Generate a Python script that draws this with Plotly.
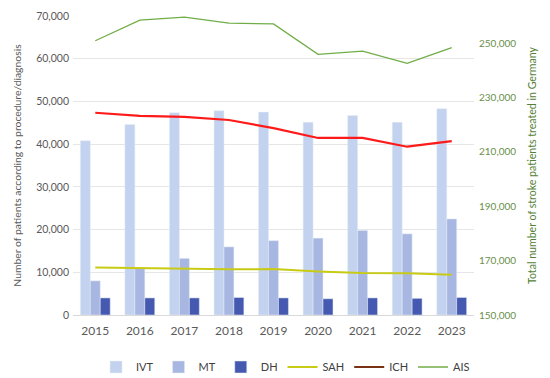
import plotly.graph_objects as go

years = ["2015", "2016", "2017", "2018", "2019", "2020", "2021", "2022", "2023"]
ivt = [40800, 44600, 47350, 47800, 47500, 45100, 46700, 45100, 48300]
mt = [8000, 10900, 13250, 15950, 17400, 18000, 19800, 19000, 22500]
dh = [4000, 4000, 4000, 4100, 4000, 3800, 4000, 3900, 4100]
sah = [11100, 10950, 10850, 10700, 10750, 10200, 9850, 9800, 9400]
ich = [47350, 46600, 46400, 45650, 43750, 41450, 41450, 39400, 40700]
ais = [250900, 258500, 259600, 257400, 257100, 245900, 247100, 242600, 248400]

font = "Lato"
fig = go.Figure()
fig.add_trace(go.Bar(x=years, y=ivt, name="IVT", marker_color="#C3D2EE"))
fig.add_trace(go.Bar(x=years, y=mt, name="MT", marker_color="#A8B7E2"))
fig.add_trace(go.Bar(x=years, y=dh, name="DH", marker_color="#4559B0"))
fig.add_trace(go.Scatter(x=years, y=sah, name="SAH", mode="lines",
                         line=dict(color="#C8CB14", width=2)))
fig.add_trace(go.Scatter(x=years, y=ich, name="ICH", mode="lines", showlegend=False,
                         line=dict(color="#FF1A1A", width=2.2)))
fig.add_trace(go.Scatter(x=[None], y=[None], name="ICH", mode="lines",
                         line=dict(color="#7A3214", width=2)))
fig.add_trace(go.Scatter(x=years, y=ais, name="AIS", mode="lines", yaxis="y2",
                         line=dict(color="#70AD47", width=1.3)))

fig.update_layout(
    width=542, height=370,
    margin=dict(l=65, r=76, t=8, b=63),
    paper_bgcolor="white", plot_bgcolor="white",
    barmode="group", bargap=0.33, bargroupgap=0,
    font=dict(family=font, color="#595959", size=10),
    xaxis=dict(showgrid=False, showline=True, linecolor="#D9D9D9", linewidth=1,
               tickfont=dict(size=12, color="#595959"), ticks="", automargin=False,
               ticklabelstandoff=5),
    yaxis=dict(range=[0, 70000], dtick=10000, tickformat=",", showgrid=True,
               gridcolor="#E6E6E6", gridwidth=1, zeroline=False, automargin=False,
               tickfont=dict(size=10.5, color="#595959"), ticklabelstandoff=3,
               ticklabeloverflow="allow",
               title=dict(text="Number of patients according to procedure/diagnosis",
                          font=dict(size=10.4, color="#595959"), standoff=12)),
    yaxis2=dict(overlaying="y", side="right", range=[150000, 260000],
                tickmode="linear", tick0=150000, dtick=20000, automargin=False,
                tickformat=",", showgrid=False, zeroline=False, ticklabelstandoff=4,
                ticklabeloverflow="allow",
                tickfont=dict(size=10, color="#6A8F4A"),
                title=dict(text="Total number of stroke patients treated in Germany",
                           font=dict(size=10.6, color="#548235"), standoff=13)),
    legend=dict(orientation="h", x=0.53, xanchor="center",
                yref="container", y=1 - 359 / 370, yanchor="middle",
                font=dict(size=11, color="#404040"), itemwidth=30,
                traceorder="normal"),
)

fig.write_html("out.html")
